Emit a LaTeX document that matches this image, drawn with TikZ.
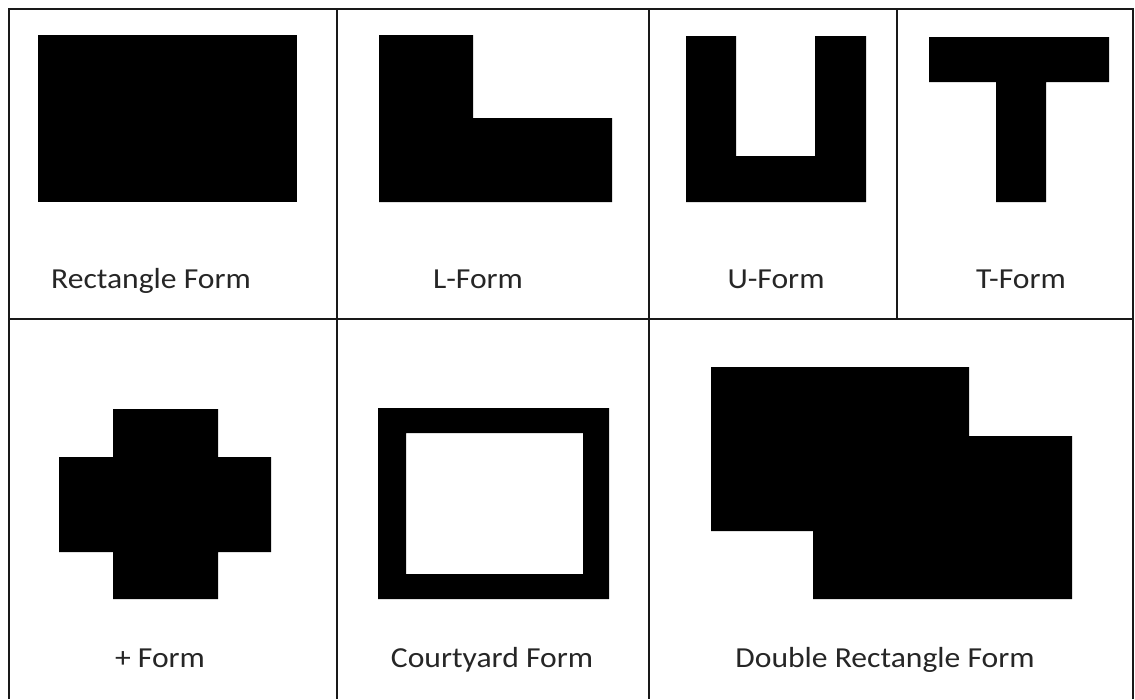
\documentclass[tikz,border=0pt]{standalone}
\usepackage{fontspec}
\setmainfont{Carlito}
\begin{document}
\begin{tikzpicture}[x=1pt,y=-1pt,
  frame/.style={line width=2pt,draw=black!90},
  mass/.style={fill=black,draw=none},
  lbl/.style={font=\fontsize{29}{34}\selectfont,text=black!85,inner sep=0pt,anchor=base,xscale=1.09}]
\useasboundingbox[fill=white] (0,0) rectangle (1135,699);
% grid frame
\draw[frame] (9,699) -- (9,9) -- (1133,9) -- (1133,699);
\draw[frame] (9,319) -- (1133,319);
\draw[frame] (337,9) -- (337,699);
\draw[frame] (649,9) -- (649,699);
\draw[frame] (897,9) -- (897,319);
% Rectangle form
\fill[mass] (38,35) rectangle (297,202);
% L-form
\fill[mass] (379,35) -- (473,35) -- (473,118) -- (612,118) -- (612,202) -- (379,202) -- cycle;
% U-form
\fill[mass] (686,36) -- (736,36) -- (736,156) -- (815,156) -- (815,36) -- (866,36) -- (866,202) -- (686,202) -- cycle;
% T-form
\fill[mass] (929,37) -- (1109,37) -- (1109,82) -- (1046,82) -- (1046,202) -- (996,202) -- (996,82) -- (929,82) -- cycle;
% + form
\fill[mass] (113,409) -- (218,409) -- (218,457) -- (271,457) -- (271,552) -- (218,552) -- (218,599) -- (113,599) -- (113,552) -- (59,552) -- (59,457) -- (113,457) -- cycle;
% Courtyard form
\fill[mass,even odd rule] (378,408) rectangle (609,599) (406,433) rectangle (583,574);
% Double rectangle form
\fill[mass] (711,367) -- (969,367) -- (969,436) -- (1072,436) -- (1072,599) -- (813,599) -- (813,531) -- (711,531) -- cycle;
% labels
\node[lbl] (l1) at (151,288) {Rectangle Form};
\node[lbl] (l2) at (478,288) {L-Form};
\node[lbl] (l3) at (776,288) {U-Form};
\node[lbl] (l4) at (1021,288) {T-Form};
\node[lbl] (l5) at (160,667) {+ Form};
\node[lbl] (l6) at (492,667) {Courtyard Form};
\node[lbl] (l7) at (885,667) {Double Rectangle Form};
\end{tikzpicture}
\end{document}
